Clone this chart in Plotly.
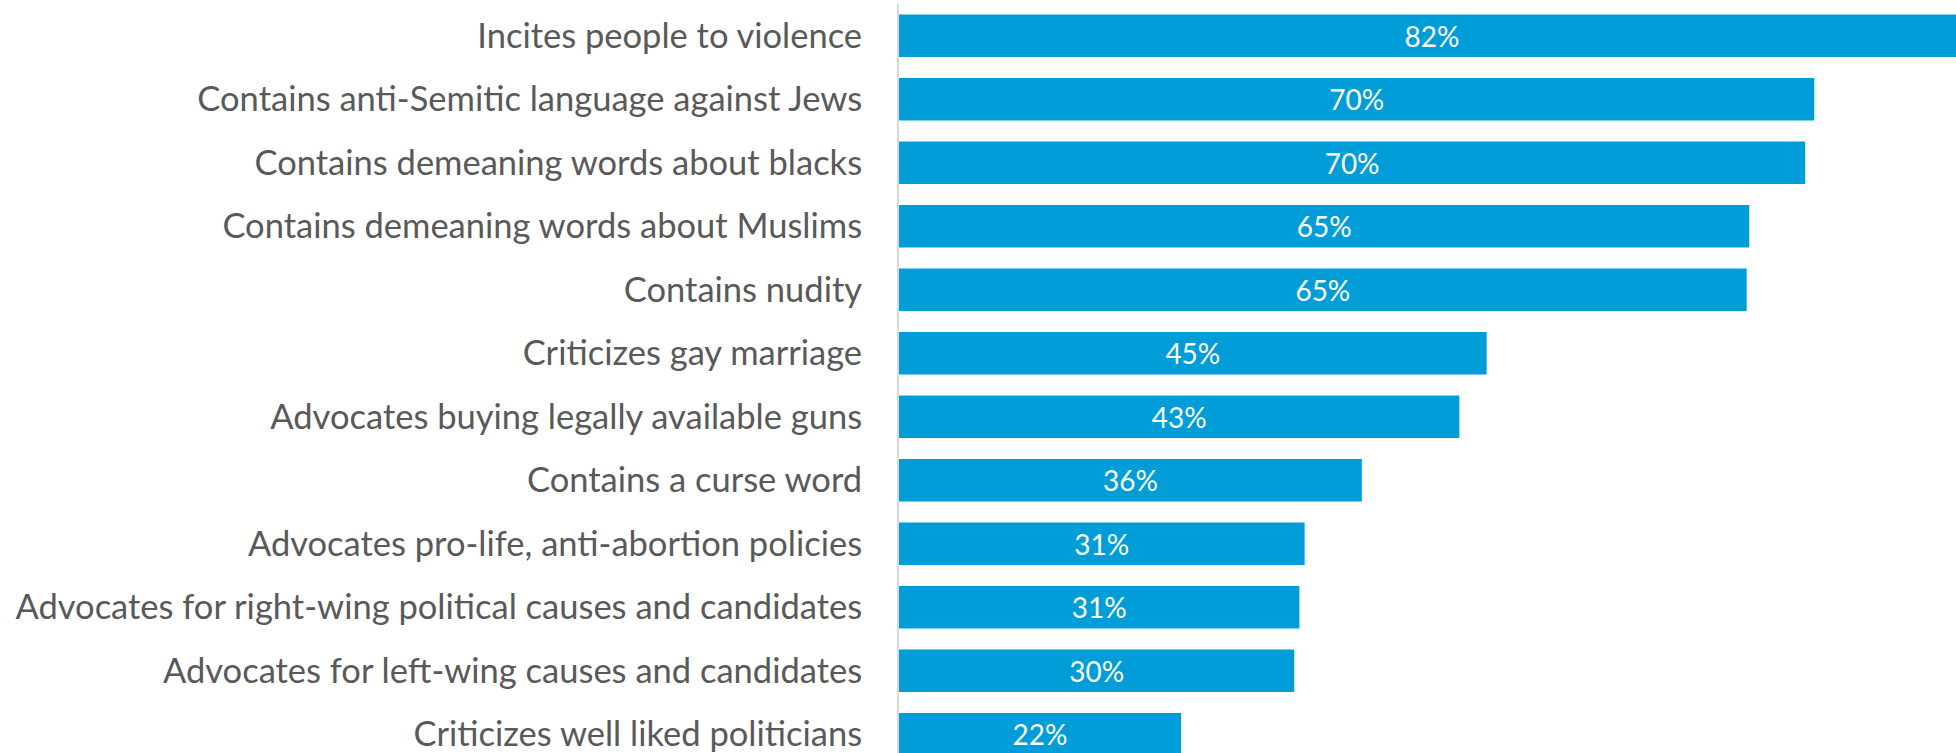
import plotly.graph_objects as go

categories = [
    "Incites people to violence",
    "Contains anti-Semitic language against Jews",
    "Contains demeaning words about blacks",
    "Contains demeaning words about Muslims",
    "Contains nudity",
    "Criticizes gay marriage",
    "Advocates buying legally available guns",
    "Contains a curse word",
    "Advocates pro-life, anti-abortion policies",
    "Advocates for right-wing political causes and candidates",
    "Advocates for left-wing causes and candidates",
    "Criticizes well liked politicians",
]
values = [82.0, 70.4, 69.7, 65.4, 65.2, 45.2, 43.1, 35.6, 31.2, 30.8, 30.4, 21.7]

fig = go.Figure(go.Bar(
    x=values,
    y=categories,
    orientation="h",
    marker=dict(color="#009DD9", line=dict(width=0)),
    texttemplate="%{x:.0f}%",
    textposition="inside",
    insidetextanchor="middle",
    textfont=dict(family="Lato", size=28, color="white"),
    hoverinfo="skip",
))

# Customize chart appearance
fig.update_layout(
    width=1956, height=753,
    margin=dict(l=899, r=0, t=4, b=0),
    paper_bgcolor="white", plot_bgcolor="white",
    bargap=0.33,
    showlegend=False,
    font=dict(family="Lato", color="#595959"),
)
fig.update_xaxes(range=[0, 81.3], visible=False, fixedrange=True)
fig.update_yaxes(
    type="category",
    range=[11.295, -0.5],
    showline=True, linecolor="#D9D9D9", linewidth=2,
    showgrid=False, zeroline=False,
    ticks="", ticklabelstandoff=28,
    tickfont=dict(family="Lato", size=34.5, color="#595959"),
    automargin=False,
)

# page margin off so the chart sits at the window's corner
fig.write_html("out.html", config={"displayModeBar": False},
               post_script="document.body.style.margin='0';document.body.style.overflow='hidden';")
